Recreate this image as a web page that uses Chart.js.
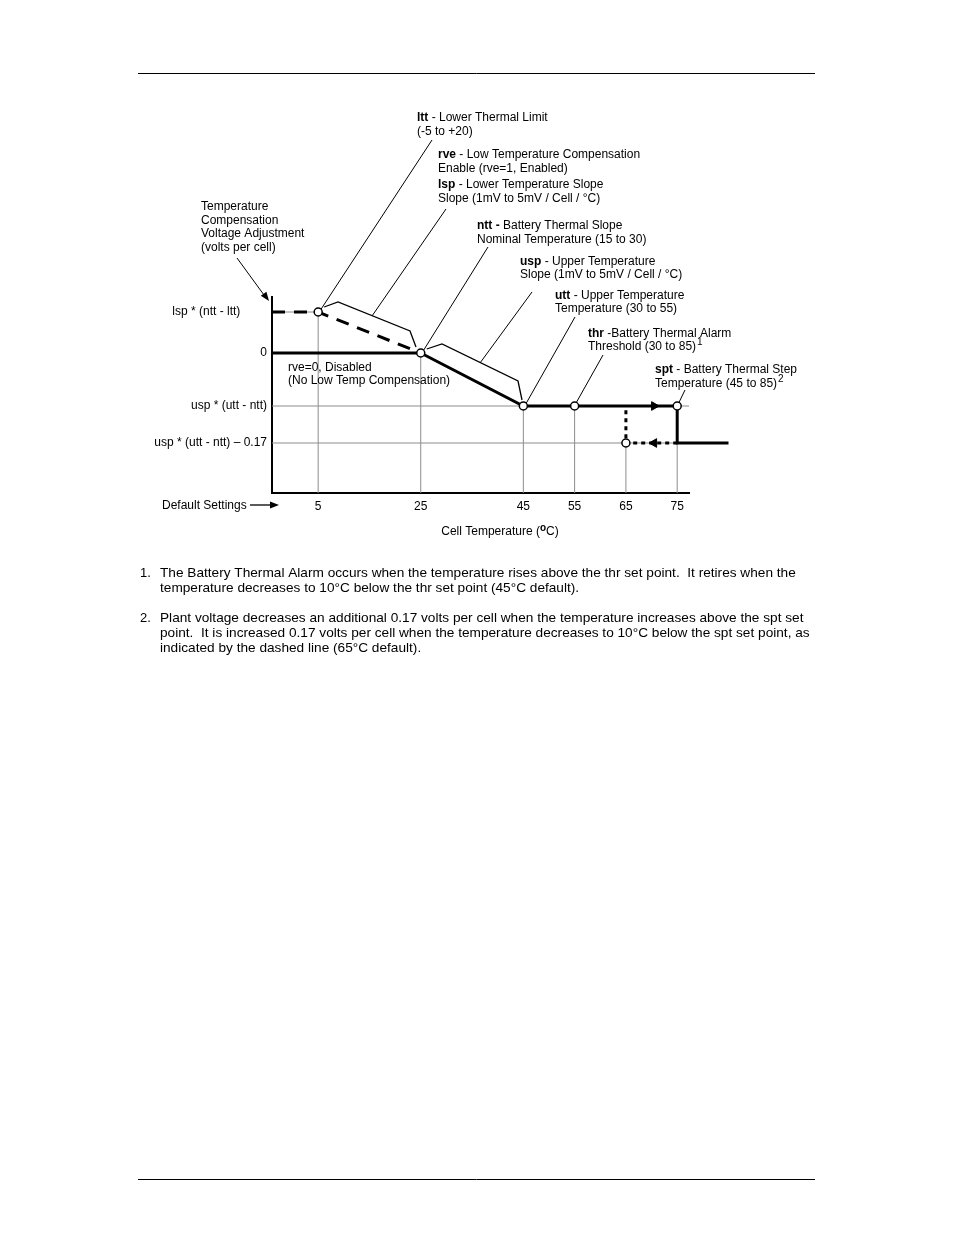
<!DOCTYPE html>
<html>
<head>
<meta charset="utf-8">
<title>Temperature Compensation</title>
<script src="https://cdn.jsdelivr.net/npm/chart.js@4.4.1/dist/chart.umd.min.js"></script>
<style>
  html, body { margin: 0; padding: 0; background: #fff; }
  canvas { display: block; }
</style>
</head>
<body>
<canvas id="chart" width="954" height="1235"></canvas>
<script>
// x axis: cell temperature (default settings), y axis: schematic voltage levels
const X_TICKS = [5, 25, 45, 55, 65, 75];
const X_RANGE = [-4, 77.3];
const Y_RANGE = [-2.8, 1.12];
const Y_LEVELS = [0.82, 0, -1.06, -1.8];
const Y_LABELS = ['lsp * (ntt - ltt)        ', '0', 'usp * (utt - ntt)', 'usp * (utt - ntt) \u2013 0.17'];

// rve=0, disabled
const OFF_X = [-4, 25];
const OFF_Y = [0, 0];
// rve=1, enabled (dashed)
const ON_X = [-4, 5, 25];
const ON_Y = [0.82, 0.82, 0];
// rising temperature path
const RISE_X = [25, 45, 75, 75, 85];
const RISE_Y = [0, -1.06, -1.06, -1.8, -1.8];
// falling temperature path (dotted)
const FALL_X = [75, 65, 65];
const FALL_Y = [-1.8, -1.8, -1.06];
// set points
const SET_X = [5, 25, 45, 55, 75, 65];
const SET_Y = [0.82, 0, -1.06, -1.06, -1.06, -1.8];
// direction arrows
const ARROW_X = [70.5, 70.5];
const ARROW_Y = [-1.06, -1.8];
const ARROW_ROT = [90, -90];
// thin guide lines: vertical tops, horizontal ends
const GRID_TOP = [0.82, 0, -1.06, -1.06, -1.8, -1.8];
const HGRID_END = [5, 0, 77.3, 77.3];

const pts = (xs, ys) => xs.map((x, i) => ({x: x, y: ys[i]}));

const gridPts = [];
X_TICKS.forEach((x, i) => {
    gridPts.push({x: x, y: Y_RANGE[0]}, {x: x, y: GRID_TOP[i]}, {x: x, y: null});
});
Y_LEVELS.forEach((y, i) => {
    if (HGRID_END[i] > X_RANGE[0]) {
        gridPts.push({x: X_RANGE[0], y: y}, {x: HGRID_END[i], y: y}, {x: HGRID_END[i], y: null});
    }
});

const FONT = '"Liberation Sans", Arial, sans-serif';

function drawLabel(ctx, x, y, bold, rest, sup) {
    y += 2;
    ctx.font = 'bold 12px ' + FONT;
    ctx.fillText(bold, x, y);
    let w = bold ? ctx.measureText(bold).width : 0;
    ctx.font = '12px ' + FONT;
    ctx.fillText(rest, x + w, y);
    if (sup) {
        w += ctx.measureText(rest).width;
        ctx.font = '10px ' + FONT;
        ctx.fillText(sup, x + w + 1, y - 5);
    }
}

function line(ctx, p) {
    ctx.beginPath();
    ctx.moveTo(p[0][0], p[0][1]);
    for (let i = 1; i < p.length; i++) ctx.lineTo(p[i][0], p[i][1]);
    ctx.stroke();
}

function arrowHead(ctx, x1, y1, x2, y2, len, half) {
    const a = Math.atan2(y2 - y1, x2 - x1);
    ctx.beginPath();
    ctx.moveTo(x2, y2);
    ctx.lineTo(x2 - len * Math.cos(a) + half * Math.sin(a), y2 - len * Math.sin(a) - half * Math.cos(a));
    ctx.lineTo(x2 - len * Math.cos(a) - half * Math.sin(a), y2 - len * Math.sin(a) + half * Math.cos(a));
    ctx.closePath();
    ctx.fill();
}

const annotations = {
    id: 'annotations',
    afterDraw(chart) {
        const ctx = chart.ctx;
        const xs = chart.scales.x, ys = chart.scales.y;
        ctx.save();
        ctx.fillStyle = '#000';
        ctx.strokeStyle = '#000';
        ctx.textBaseline = 'middle';
        ctx.textAlign = 'left';

        // page rules
        ctx.lineWidth = 1;
        line(ctx, [[138, 73.5], [815, 73.5]]);
        line(ctx, [[138, 1179.5], [815, 1179.5]]);

        // callouts
        drawLabel(ctx, 417, 116, 'ltt', ' - Lower Thermal Limit');
        drawLabel(ctx, 417, 130, '', '(-5 to +20)');
        drawLabel(ctx, 438, 153, 'rve', ' - Low Temperature Compensation');
        drawLabel(ctx, 438, 167, '', 'Enable (rve=1, Enabled)');
        drawLabel(ctx, 438, 183, 'lsp', ' - Lower Temperature Slope');
        drawLabel(ctx, 438, 197, '', 'Slope (1mV to 5mV / Cell / \u00b0C)');
        drawLabel(ctx, 477, 224, 'ntt -', ' Battery Thermal Slope');
        drawLabel(ctx, 477, 238, '', 'Nominal Temperature (15 to 30)');
        drawLabel(ctx, 520, 260, 'usp', ' - Upper Temperature');
        drawLabel(ctx, 520, 273, '', 'Slope (1mV to 5mV / Cell / \u00b0C)');
        drawLabel(ctx, 555, 294, 'utt', ' - Upper Temperature');
        drawLabel(ctx, 555, 307, '', 'Temperature (30 to 55)');
        drawLabel(ctx, 588, 332, 'thr', ' -Battery Thermal Alarm');
        drawLabel(ctx, 588, 345, '', 'Threshold (30 to 85)', '1');
        drawLabel(ctx, 655, 368, 'spt', ' - Battery Thermal Step');
        drawLabel(ctx, 655, 382, '', 'Temperature (45 to 85)', '2');

        drawLabel(ctx, 201, 205, '', 'Temperature');
        drawLabel(ctx, 201, 219, '', 'Compensation');
        drawLabel(ctx, 201, 232, '', 'Voltage Adjustment');
        drawLabel(ctx, 201, 246, '', '(volts per cell)');

        drawLabel(ctx, 288, 366, '', 'rve=0, Disabled');
        drawLabel(ctx, 288, 379, '', '(No Low Temp Compensation)');

        // leader lines to the set points
        const cx = i => xs.getPixelForValue(SET_X[i]);
        const cy = i => ys.getPixelForValue(SET_Y[i]);
        ctx.lineWidth = 1;
        line(ctx, [[432, 140], [cx(0) + 3, cy(0) - 3]]);
        line(ctx, [[446, 209], [372, 316]]);
        line(ctx, [[488, 247], [cx(1) + 3, cy(1) - 3]]);
        line(ctx, [[532, 292], [480, 363]]);
        line(ctx, [[575, 317], [cx(2) + 3, cy(2) - 3]]);
        line(ctx, [[603, 355], [cx(3) + 2, cy(3) - 4]]);
        line(ctx, [[685, 390], [cx(4) + 2, cy(4) - 4]]);

        // brackets over the slopes
        ctx.lineWidth = 1.3;
        line(ctx, [[cx(0) + 6, cy(0) - 5], [338, 302], [410, 331], [416, cy(1) - 6]]);
        line(ctx, [[cx(1) + 6, cy(1) - 4], [442, 344], [518, 381], [522, cy(2) - 6]]);

        // y label pointer
        ctx.lineWidth = 1;
        line(ctx, [[237, 258], [264, 295]]);
        arrowHead(ctx, 237, 258, 269, 301, 9, 3.5);

        // default settings row
        const ty = xs.bottom - 20 + 12;
        drawLabel(ctx, 162, ty - 1, '', 'Default Settings');
        ctx.lineWidth = 1.3;
        line(ctx, [[250, ty], [272, ty]]);
        arrowHead(ctx, 250, ty, 279, ty, 9, 3.5);

        // x title with raised degree mark
        const title1 = 'Cell Temperature (';
        ctx.font = '12px ' + FONT;
        const w1 = ctx.measureText(title1).width;
        ctx.font = 'bold 10px ' + FONT;
        const w2 = ctx.measureText('o').width;
        ctx.font = '12px ' + FONT;
        const w3 = ctx.measureText('C)').width;
        let tx = 500 - (w1 + w2 + w3) / 2;
        ctx.fillText(title1, tx, 532);
        ctx.font = 'bold 10px ' + FONT;
        ctx.fillText('o', tx + w1, 528);
        ctx.font = '12px ' + FONT;
        ctx.fillText('C)', tx + w1 + w2, 532);

        // footnotes (slightly widened face, as in the source document)
        const sx = 1.05;
        ctx.font = '13px ' + FONT;
        ctx.fillText('1.', 140, 573);
        ctx.fillText('2.', 140, 618);
        ctx.save();
        ctx.scale(sx, 1);
        const fx = 160 / sx;
        ctx.fillText('The Battery Thermal Alarm occurs when the temperature rises above the thr set point.  It retires when the', fx, 573);
        ctx.fillText('temperature decreases to 10\u00b0C below the thr set point (45\u00b0C default).', fx, 588);
        ctx.fillText('Plant voltage decreases an additional 0.17 volts per cell when the temperature increases above the spt set', fx, 618);
        ctx.fillText('point.  It is increased 0.17 volts per cell when the temperature decreases to 10\u00b0C below the spt set point, as', fx, 633);
        ctx.fillText('indicated by the dashed line (65\u00b0C default).', fx, 648);
        ctx.restore();
        ctx.restore();
    }
};

const ctx = document.getElementById('chart').getContext('2d');
new Chart(ctx, {
    type: 'line',
    data: {
        datasets: [
            {
                data: pts(SET_X, SET_Y),
                showLine: false,
                pointStyle: 'circle',
                pointRadius: 4,
                pointBackgroundColor: '#fff',
                pointBorderColor: '#000',
                pointBorderWidth: 1.5,
                clip: false,
                order: 0
            },
            {
                data: pts(ARROW_X, ARROW_Y),
                showLine: false,
                pointStyle: 'triangle',
                pointRadius: 5,
                rotation: ARROW_ROT,
                pointBackgroundColor: '#000',
                pointBorderColor: '#000',
                pointBorderWidth: 1,
                clip: false,
                order: 1
            },
            {
                data: pts(RISE_X, RISE_Y),
                borderColor: '#000',
                borderWidth: 3,
                pointRadius: 0,
                tension: 0,
                clip: false,
                order: 2
            },
            {
                data: pts(OFF_X, OFF_Y),
                borderColor: '#000',
                borderWidth: 3,
                pointRadius: 0,
                tension: 0,
                order: 2
            },
            {
                data: pts(ON_X, ON_Y),
                borderColor: '#000',
                borderWidth: 3,
                borderDash: [13, 9],
                pointRadius: 0,
                tension: 0,
                order: 3
            },
            {
                data: pts(FALL_X, FALL_Y),
                borderColor: '#000',
                borderWidth: 3,
                borderDash: [4, 4],
                pointRadius: 0,
                tension: 0,
                order: 3
            },
            {
                data: gridPts,
                borderColor: '#8c8c8c',
                borderWidth: 1,
                pointRadius: 0,
                spanGaps: false,
                tension: 0,
                order: 9
            }
        ]
    },
    options: {
        responsive: false,
        animation: false,
        events: [],
        layout: {
            padding: {left: 140, top: 297, right: 265, bottom: 722}
        },
        plugins: {
            legend: {display: false},
            tooltip: {enabled: false}
        },
        scales: {
            x: {
                type: 'linear',
                min: X_RANGE[0],
                max: X_RANGE[1],
                grid: {display: false, drawTicks: false},
                border: {display: true, color: '#000', width: 2},
                afterBuildTicks: axis => { axis.ticks = X_TICKS.map(v => ({value: v})); },
                afterFit: axis => { axis.height = 20; },
                ticks: {
                    autoSkip: false,
                    maxRotation: 0,
                    padding: 6,
                    color: '#000',
                    font: {family: FONT, size: 12},
                    callback: (v, i) => String(X_TICKS[i])
                }
            },
            y: {
                type: 'linear',
                min: Y_RANGE[0],
                max: Y_RANGE[1],
                grid: {display: false, drawTicks: false},
                border: {display: true, color: '#000', width: 2},
                afterBuildTicks: axis => { axis.ticks = Y_LEVELS.map(v => ({value: v})); },
                afterFit: axis => { axis.width = 132; },
                ticks: {
                    autoSkip: false,
                    padding: 5,
                    color: '#000',
                    font: {family: FONT, size: 12},
                    callback: (v, i) => Y_LABELS[i]
                }
            }
        }
    },
    plugins: [annotations]
});
</script>
</body>
</html>
